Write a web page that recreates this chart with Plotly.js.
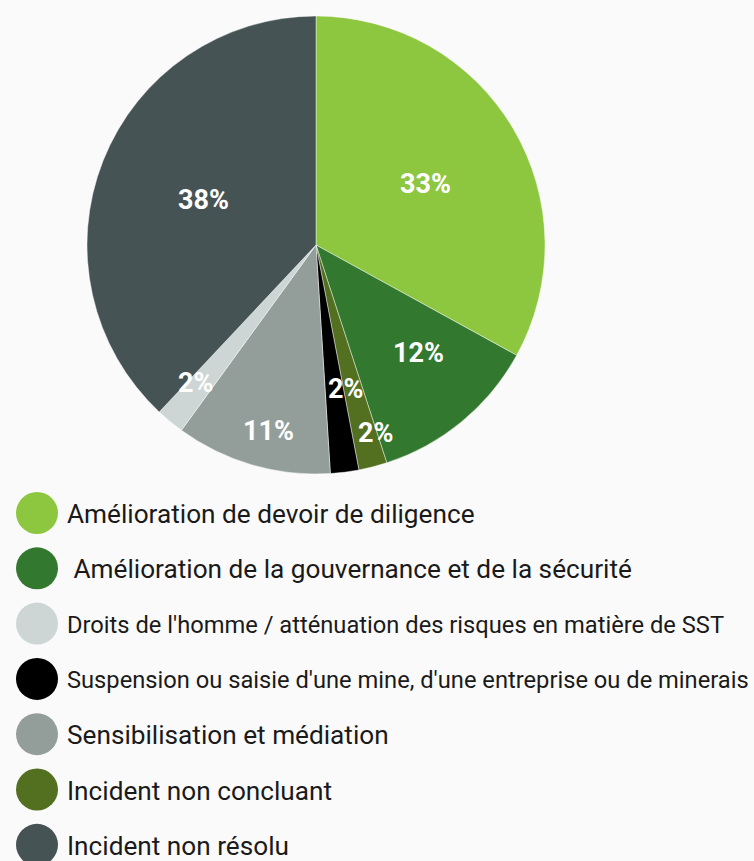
<!DOCTYPE html>
<html>
<head>
<meta charset="utf-8">
<script src="https://cdn.plot.ly/plotly-3.0.1.min.js"></script>
<style>
html,body{margin:0;padding:0;background:#fafafa;}
#chart{width:754px;height:861px;}
</style>
</head>
<body>
<div id="chart"></div>
<script>
// ---- Data (pie order, clockwise from 12 o'clock) ----
const sliceLabels = [
  "Amélioration de devoir de diligence",
  " Amélioration de la gouvernance et de la sécurité",
  "Incident non concluant",
  "Suspension ou saisie d'une mine, d'une entreprise ou de minerais",
  "Sensibilisation et médiation",
  "Droits de l'homme / atténuation des risques en matière de SST",
  "Incident non résolu"
];
const sliceValues = [33, 12, 2, 2, 11, 2, 38];
const sliceColors = ["#8dc63f", "#33782f", "#52701f", "#000000", "#939e9b", "#cdd6d5", "#465354"];

// ---- Legend order ----
const legendOrder = [
  "Amélioration de devoir de diligence",
  " Amélioration de la gouvernance et de la sécurité",
  "Droits de l'homme / atténuation des risques en matière de SST",
  "Suspension ou saisie d'une mine, d'une entreprise ou de minerais",
  "Sensibilisation et médiation",
  "Incident non concluant",
  "Incident non résolu"
];

// ---- Layout helpers (pixel geometry) ----
const W = 754, H = 861;
const cx = 316, cy = 245, R = 229;
const labelRadius = [0.55, 0.65, 0.86, 0.64, 0.84, 0.80, 0.53];
const labelAngleShift = [1.4, -3.8, -3.1, -4.3, -1.8, 1.4, 0.3];
const legendFontSize = [26.2, 26.2, 23.7, 23.7, 26.2, 26.2, 26.2];

const total = sliceValues.reduce((a, b) => a + b, 0);
const annotations = [];
let cum = 0;
sliceValues.forEach((v, i) => {
  const mid = (cum + v / 2) / total * 2 * Math.PI + labelAngleShift[i] * Math.PI / 180;
  cum += v;
  const px = cx + Math.sin(mid) * R * labelRadius[i];
  const py = cy - Math.cos(mid) * R * labelRadius[i];
  annotations.push({
    xref: "paper", yref: "paper", x: px / W, y: 1 - py / H,
    text: Math.round(v / total * 100) + "%", showarrow: false,
    xanchor: "center", yanchor: "middle",
    font: {family: "Roboto, sans-serif", size: 27, color: "#ffffff", weight: 700}
  });
});

const shapes = [];
legendOrder.forEach((lab, i) => {
  const yc = 513 + i * 55.3;
  const idx = sliceLabels.indexOf(lab);
  shapes.push({
    type: "circle", xref: "paper", yref: "paper",
    xsizemode: "pixel", ysizemode: "pixel",
    xanchor: 37 / W, yanchor: 1 - yc / H,
    x0: -21, x1: 21, y0: -21, y1: 21,
    fillcolor: sliceColors[idx], line: {width: 0}
  });
  annotations.push({
    xref: "paper", yref: "paper", x: 65 / W, y: 1 - (yc + 1) / H,
    text: lab.replace(/^ /, "&nbsp;"), showarrow: false,
    xanchor: "left", yanchor: "middle",
    font: {family: "Roboto, sans-serif", size: legendFontSize[i], color: "#1a1a1a"}
  });
});

const trace = {
  type: "pie",
  labels: sliceLabels,
  values: sliceValues,
  sort: false,
  direction: "clockwise",
  rotation: 0,
  marker: {colors: sliceColors, line: {color: "rgba(255,255,255,0.55)", width: 0.8}},
  textinfo: "none",
  hoverinfo: "label+percent",
  showlegend: false,
  domain: {x: [(cx - R) / W, (cx + R) / W], y: [1 - (cy + R) / H, 1 - (cy - R) / H]}
};

const layout = {
  width: W, height: H,
  margin: {l: 0, r: 0, t: 0, b: 0},
  paper_bgcolor: "#fafafa",
  plot_bgcolor: "#fafafa",
  showlegend: false,
  annotations: annotations,
  shapes: shapes
};

Plotly.newPlot("chart", [trace], layout, {displayModeBar: false, staticPlot: true});
</script>
</body>
</html>
